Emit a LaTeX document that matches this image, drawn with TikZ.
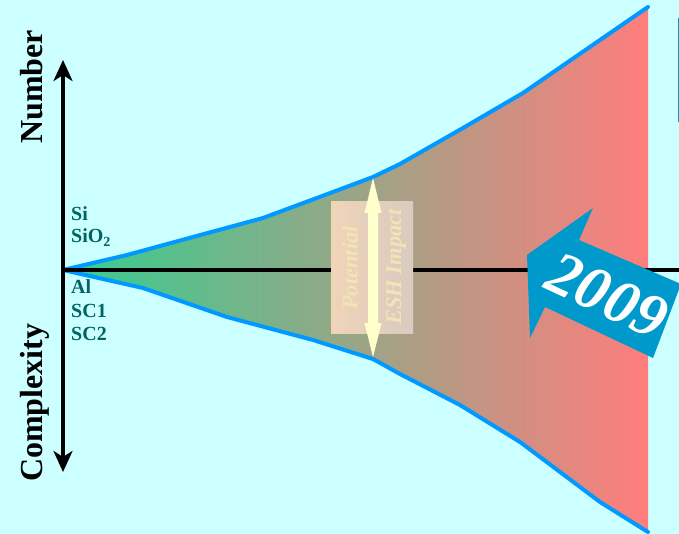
\documentclass[tikz,border=0pt]{standalone}
\usepackage{fontspec}
\setmainfont{Liberation Serif}
\usetikzlibrary{arrows.meta}

\definecolor{bgcyan}{RGB}{204,255,255}
\definecolor{fangreen}{RGB}{52,206,144}
\definecolor{fanred}{RGB}{255,125,125}
\definecolor{edgeblue}{RGB}{0,153,255}
\definecolor{yearblue}{RGB}{0,153,204}
\definecolor{labelteal}{RGB}{0,100,100}
\definecolor{paleyellow}{RGB}{255,255,204}
\definecolor{boxleft}{RGB}{240,212,184}
\definecolor{boxright}{RGB}{216,203,192}
\definecolor{esh}{RGB}{242,228,180}

\tikzset{
  edgeline/.style={draw=edgeblue, line width=4pt, line join=round, line cap=round},
  axisline/.style={draw=black, line width=3.4pt},
  axislabel/.style={font=\fontsize{32}{32}\selectfont\bfseries, rotate=90, anchor=base west, inner sep=0pt},
  material/.style={font=\fontsize{20}{20}\selectfont\bfseries, text=labelteal, anchor=base west, inner sep=0pt},
  impact/.style={font=\fontsize{22.5}{22.5}\selectfont\bfseries\itshape, text=esh, rotate=90, inner sep=0pt},
}

\begin{document}
\begin{tikzpicture}[x=1pt, y=-1pt]
  % canvas
  \fill[bgcyan] (0,0) rectangle (679,534);
  \useasboundingbox (0,0) rectangle (679,534);

  \coordinate (O) at (63,270);
  \coordinate (Xend) at (679,270);
  \coordinate (Ytop) at (63,60);
  \coordinate (Ybot) at (63,472);

  % widening fan, green to red
  \shade[left color=fangreen, right color=fanred]
    (O) -- (127,255) -- (193,237) -- (263,218) -- (333,192) -- (373,177)
    -- (400,164) -- (463,128) -- (523,93) -- (600,40) -- (648,7)
    -- (648,532) -- (600,502) -- (520,442) -- (460,405) -- (400,374)
    -- (373,359) -- (313,340) -- (227,317) -- (143,288) -- cycle;

  % fan edges
  \draw[edgeline] (O) -- (127,255) -- (193,237) -- (263,218) -- (333,192) -- (373,177)
    -- (400,164) -- (463,128) -- (523,93) -- (600,40) -- (648,7);
  \draw[edgeline] (O) -- (143,288) -- (227,317) -- (313,340) -- (373,359)
    -- (400,374) -- (460,405) -- (520,442) -- (600,502) -- (648,532);

  % axes
  \draw[axisline] (O) -- (Xend);
  \draw[axisline, {Stealth[length=21pt,width=19pt,inset=6pt]}-{Stealth[length=21pt,width=19pt,inset=6pt]}] (Ytop) -- (Ybot);

  \node[axislabel] (number) at (42,144) {Number};
  \node[axislabel] (complexity) at (42,482) {Complexity};

  % materials
  \node[material] (si) at (71,221) {Si};
  \node[material] (sio2) at (71,243) {SiO\textsubscript{2}};
  \node[material] (al) at (71,294) {Al};
  \node[material] (sc1) at (71,317) {SC1};
  \node[material] (sc2) at (71,340) {SC2};

  % potential ESH impact panel
  \shade[left color=boxleft, right color=boxright] (331,202) rectangle (413,333);
  \fill[paleyellow]
    (373,178) -- (381.5,213) -- (378,213) -- (378,323) -- (381.5,323)
    -- (373,357) -- (364.5,323) -- (368,323) -- (368,213) -- (364.5,213) -- cycle;
  \node[impact] (potential) at (350,268) {Potential};
  \node[impact] (eshimpact) at (396,267) {ESH Impact};

  % 2009 arrow
  \fill[yearblue] (593,208) -- (527,255) -- (530,338) -- (545,307) -- (653,358)
    -- (681,284) -- (579,240) -- cycle;
  \node[font=\fontsize{62}{62}\selectfont\bfseries\itshape, text=white, rotate=-25,
        anchor=base, inner sep=0pt] (year) at (599,314) {2009};

  % edge of a neighbouring mark
  \fill[yearblue] (677.5,18) rectangle (679,122);
\end{tikzpicture}
\end{document}
